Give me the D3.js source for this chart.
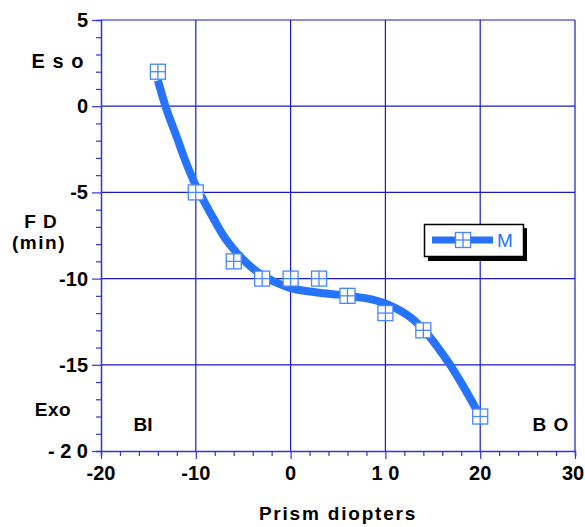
<!DOCTYPE html>
<html>
<head>
    <title>FD vs Prism diopters</title>
    <script src="https://d3js.org/d3.v7.min.js"></script>
    <style>
        body { margin: 0; background: #fff; }
        text { font-family: "Liberation Sans", Arial, sans-serif; font-weight: bold; fill: #000; }
    </style>
</head>
<body>
<div id="chart"></div>
<script>
// measured points (prism diopters, FD in min)
const prism = [-14, -10, -6, -3, 0, 3, 6, 10, 14, 20];
const fd = [2, -5, -9, -10, -10, -10, -11, -12, -13, -18];

// fitted curve
const curveX = [-14, -13.2, -12, -11.15, -10, -9.2, -8, -7.1, -6, -5, -4, -3, -2, -1, 0, 2, 3.5, 5, 7, 8, 9, 10, 11, 12, 13, 14, 15, 16, 17, 18, 19, 20];
const curveY = [1.5, 0, -1.8, -3.1, -4.6, -5.45, -6.65, -7.5, -8.3, -8.9, -9.4, -9.8, -10.1, -10.35, -10.55, -10.75, -10.85, -10.93, -11.07, -11.15, -11.27, -11.45, -11.7, -12.0, -12.4, -12.95, -13.6, -14.35, -15.15, -16.05, -17.0, -18];

const xTicks = [-20, -10, 0, 10, 20, 30];
const xTickLabels = ['-20', '-10', '0', '1 0', '20', '30'];
const yTicks = [5, 0, -5, -10, -15, -20];
const yTickLabels = ['5', '0', '-5', '-10', '-15', '- 2 0'];

const width = 585, height = 527;
const lineBlue = '#2673ff';
const gridBlue = '#1a1acc';

const svg = d3.select('#chart').append('svg')
    .attr('width', width)
    .attr('height', height);

const x = d3.scaleLinear().domain([-20, 30]).range([101, 575]);
const y = d3.scaleLinear().domain([-20, 5]).range([451, 20]);

// grid
const grid = svg.append('g');
grid.selectAll('.gx').data(xTicks.slice(1)).enter().append('line')
    .attr('x1', d => x(d)).attr('x2', d => x(d))
    .attr('y1', y(-20)).attr('y2', y(5))
    .attr('stroke', gridBlue).attr('stroke-width', 1.2);
grid.selectAll('.gy').data(yTicks.slice(0, -1)).enter().append('line')
    .attr('x1', x(-20)).attr('x2', x(30))
    .attr('y1', d => y(d)).attr('y2', d => y(d))
    .attr('stroke', gridBlue).attr('stroke-width', 1.2);

// axes
const xAxis = svg.append('g')
    .attr('transform', `translate(0,${y(-20)})`)
    .call(d3.axisBottom(x).tickValues(d3.range(-20, 31, 2)).tickSize(5).tickFormat(''));
const yAxis = svg.append('g')
    .attr('transform', `translate(${x(-20)},0)`)
    .call(d3.axisLeft(y).tickValues(d3.range(-20, 6, 1)).tickSize(5).tickFormat(''));
[xAxis, yAxis].forEach(a => {
    a.select('.domain').attr('stroke', '#3333dd').attr('stroke-width', 1.5);
    a.selectAll('.tick line').attr('stroke', '#3333dd').attr('stroke-width', 1.2);
});
xAxis.selectAll('.tick line').filter(d => d % 10 === 0).attr('y2', 8);
yAxis.selectAll('.tick line').filter(d => d % 5 === 0).attr('x2', -9);

svg.append('g').selectAll('text').data(xTicks).enter().append('text')
    .attr('x', d => d === 30 ? x(d) - 2 : x(d)).attr('y', 480)
    .attr('text-anchor', 'middle')
    .style('font-size', '20px')
    .text((d, i) => xTickLabels[i]);
svg.append('g').selectAll('text').data(yTicks).enter().append('text')
    .attr('x', 88).attr('y', d => y(d) + 7)
    .attr('text-anchor', 'end')
    .style('font-size', '20px')
    .text((d, i) => yTickLabels[i]);

// labels
const label = (t, lx, ly, size, sp) => svg.append('text')
    .attr('x', lx).attr('y', ly)
    .attr('text-anchor', 'middle')
    .style('font-size', size + 'px')
    .style('letter-spacing', (sp || 0) + 'px')
    .text(t);
label('Prism  diopters', 338, 520, 19, 1.8);
label('F D', 41, 228, 19, 1);
label('(min)', 39, 249, 19, 1.5);
label('E s o', 58, 68, 20, 1);
label('Exo', 53, 416, 19, 0.5);
label('BI', 143, 431, 19);
label('B O', 551, 431, 19, 1);

// fitted curve
const curvePts = curveX.map((v, i) => [v, curveY[i]]);
svg.append('path')
    .datum(curvePts)
    .attr('fill', 'none')
    .attr('stroke', lineBlue)
    .attr('stroke-width', 8)
    .attr('d', d3.line().x(d => x(d[0])).y(d => y(d[1])).curve(d3.curveMonotoneX));

// markers
const marker = (g, cx, cy) => {
    const s = 15;
    g.append('rect').attr('x', cx - s / 2).attr('y', cy - s / 2)
        .attr('width', s).attr('height', s)
        .attr('fill', '#fff').attr('stroke', '#4a86ff').attr('stroke-width', 1.3);
    g.append('line').attr('x1', cx).attr('x2', cx).attr('y1', cy - s / 2).attr('y2', cy + s / 2)
        .attr('stroke', '#4a86ff').attr('stroke-width', 1.3);
    g.append('line').attr('x1', cx - s / 2).attr('x2', cx + s / 2).attr('y1', cy).attr('y2', cy)
        .attr('stroke', '#4a86ff').attr('stroke-width', 1.3);
};
const pts = svg.append('g');
prism.forEach((v, i) => marker(pts, x(v), y(fd[i])));

// legend
const leg = svg.append('g');
leg.append('rect').attr('x', 428).attr('y', 228).attr('width', 99).attr('height', 33).attr('fill', '#000');
leg.append('rect').attr('x', 424.5).attr('y', 224.5).attr('width', 99).attr('height', 32)
    .attr('fill', '#fff').attr('stroke', '#000').attr('stroke-width', 1.5);
leg.append('line').attr('x1', 432).attr('x2', 493).attr('y1', 240).attr('y2', 240)
    .attr('stroke', lineBlue).attr('stroke-width', 7);
marker(leg, 463, 240);
leg.append('text').attr('x', 497).attr('y', 247)
    .style('font-size', '19px').style('font-weight', 'normal').style('fill', lineBlue)
    .text('M');
</script>
</body>
</html>
